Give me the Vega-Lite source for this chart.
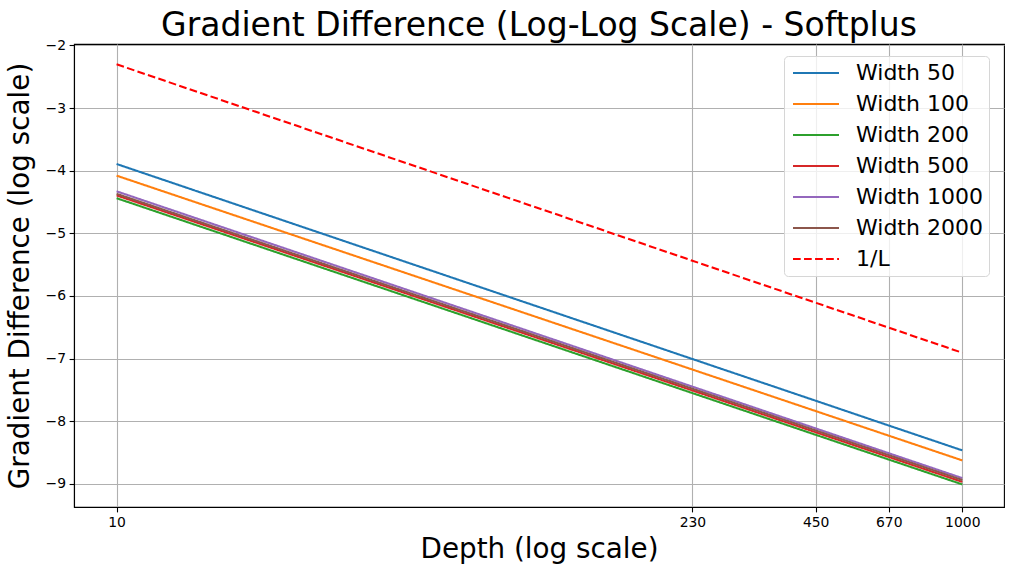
{
  "$schema": "https://vega.github.io/schema/vega-lite/v6.json",
  "width": 930,
  "height": 463,
  "autosize": {"type": "none"},
  "padding": {"left": 74, "top": 44, "right": 9, "bottom": 66},
  "background": "white",
  "title": {
    "text": "Gradient Difference (Log-Log Scale) - Softplus",
    "font": "DejaVu Sans",
    "fontSize": 33,
    "fontWeight": "normal",
    "color": "black",
    "anchor": "middle",
    "offset": -5
  },
  "config": {
    "font": "DejaVu Sans",
    "view": {"stroke": "black", "strokeWidth": 1.1},
    "axis": {
      "labelFont": "DejaVu Sans",
      "labelFontSize": 13.9,
      "labelColor": "black",
      "titleFont": "DejaVu Sans",
      "titleFontSize": 27.8,
      "titleFontWeight": "normal",
      "titleColor": "black",
      "tickColor": "black",
      "tickSize": 4.9,
      "tickWidth": 1.1,
      "labelPadding": 3.5,
      "domainColor": "black",
      "domainWidth": 1.1,
      "gridColor": "#b0b0b0",
      "gridWidth": 1.1
    },
    "legend": {
      "title": null,
      "orient": "none",
      "legendX": 710,
      "legendY": 12,
      "symbolType": "M-4.6,0H4.6",
      "symbolSize": 100,
      "symbolStrokeWidth": 2.08,
      "symbolOffset": 15,
      "labelFont": "DejaVu Sans",
      "labelFontSize": 22,
      "labelColor": "black",
      "labelOffset": 29,
      "rowPadding": 9,
      "padding": 6,
      "fillColor": "rgba(255,255,255,0.8)",
      "strokeColor": "#d6d6d6",
      "cornerRadius": 4
    }
  },
  "data": {
    "values": [
      {"depth": 10, "value": -3.894, "series": "Width 50"},
      {"depth": 230, "value": -7.008, "series": "Width 50"},
      {"depth": 450, "value": -7.674, "series": "Width 50"},
      {"depth": 670, "value": -8.070, "series": "Width 50"},
      {"depth": 1000, "value": -8.467, "series": "Width 50"},
      {"depth": 10, "value": -4.080, "series": "Width 100"},
      {"depth": 230, "value": -7.176, "series": "Width 100"},
      {"depth": 450, "value": -7.839, "series": "Width 100"},
      {"depth": 670, "value": -8.232, "series": "Width 100"},
      {"depth": 1000, "value": -8.627, "series": "Width 100"},
      {"depth": 10, "value": -4.440, "series": "Width 200"},
      {"depth": 230, "value": -7.552, "series": "Width 200"},
      {"depth": 450, "value": -8.218, "series": "Width 200"},
      {"depth": 670, "value": -8.613, "series": "Width 200"},
      {"depth": 1000, "value": -9.010, "series": "Width 200"},
      {"depth": 10, "value": -4.395, "series": "Width 500"},
      {"depth": 230, "value": -7.510, "series": "Width 500"},
      {"depth": 450, "value": -8.177, "series": "Width 500"},
      {"depth": 670, "value": -8.572, "series": "Width 500"},
      {"depth": 1000, "value": -8.970, "series": "Width 500"},
      {"depth": 10, "value": -4.330, "series": "Width 1000"},
      {"depth": 230, "value": -7.449, "series": "Width 1000"},
      {"depth": 450, "value": -8.116, "series": "Width 1000"},
      {"depth": 670, "value": -8.512, "series": "Width 1000"},
      {"depth": 1000, "value": -8.910, "series": "Width 1000"},
      {"depth": 10, "value": -4.370, "series": "Width 2000"},
      {"depth": 230, "value": -7.482, "series": "Width 2000"},
      {"depth": 450, "value": -8.148, "series": "Width 2000"},
      {"depth": 670, "value": -8.543, "series": "Width 2000"},
      {"depth": 1000, "value": -8.940, "series": "Width 2000"},
      {"depth": 10, "value": -2.3026, "series": "1/L"},
      {"depth": 230, "value": -5.4381, "series": "1/L"},
      {"depth": 450, "value": -6.1092, "series": "1/L"},
      {"depth": 670, "value": -6.5073, "series": "1/L"},
      {"depth": 1000, "value": -6.9078, "series": "1/L"}
    ]
  },
  "mark": {"type": "line", "strokeWidth": 2.08, "clip": true},
  "encoding": {
    "x": {
      "field": "depth",
      "type": "quantitative",
      "scale": {"type": "log", "domain": [7.93, 1255], "nice": false},
      "axis": {
        "values": [10, 230, 450, 670, 1000],
        "format": "d",
        "title": "Depth (log scale)",
        "titlePadding": 6,
        "grid": true
      }
    },
    "y": {
      "field": "value",
      "type": "quantitative",
      "scale": {"domain": [-9.371, -1.978], "nice": false, "zero": false},
      "axis": {
        "values": [-9, -8, -7, -6, -5, -4, -3, -2],
        "format": "d",
        "title": "Gradient Difference (log scale)",
        "titlePadding": 11,
        "grid": true
      }
    },
    "color": {
      "field": "series",
      "type": "nominal",
      "scale": {
        "domain": ["Width 50", "Width 100", "Width 200", "Width 500", "Width 1000", "Width 2000", "1/L"],
        "range": ["#1f77b4", "#ff7f0e", "#2ca02c", "#d62728", "#9467bd", "#8c564b", "#ff0000"]
      },
      "legend": {"title": null}
    },
    "strokeDash": {
      "field": "series",
      "type": "nominal",
      "scale": {
        "domain": ["Width 50", "Width 100", "Width 200", "Width 500", "Width 1000", "Width 2000", "1/L"],
        "range": [[1, 0], [1, 0], [1, 0], [1, 0], [1, 0], [1, 0], [7.7, 3.33]]
      },
      "legend": {"title": null}
    }
  }
}
